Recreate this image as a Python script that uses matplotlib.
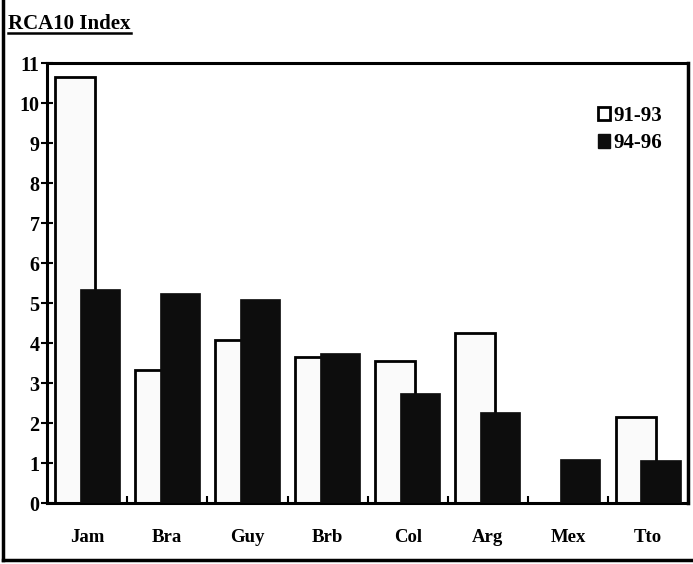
import numpy as np
import matplotlib.pyplot as plt
from matplotlib.lines import Line2D
from matplotlib.patches import Patch

paises = ['Jam', 'Bra', 'Guy', 'Brb', 'Col', 'Arg', 'Mex', 'Tto']
rca_91_93 = [10.65, 3.33, 4.08, 3.65, 3.55, 4.25, 0.0, 2.15]
rca_94_96 = [5.35, 5.25, 5.1, 3.75, 2.75, 2.28, 1.1, 1.08]
yticks = list(range(0, 12))

plt.rcParams['font.family'] = ['Liberation Serif', 'DejaVu Serif']
plt.rcParams['font.weight'] = 'bold'

fig = plt.figure(figsize=(6.93, 5.64), dpi=100)
ax = fig.add_axes([0.068, 0.108, 0.925, 0.78])

x = np.arange(len(paises))
ancho = 0.5
desp = 0.155
ax.bar(x - desp, rca_91_93, ancho, color='#fafafa', edgecolor='black',
       linewidth=2.0, zorder=2)
ax.bar(x + desp, rca_94_96, ancho, color='#0d0d0d', edgecolor='#0d0d0d',
       linewidth=0.5, zorder=3)

ax.set_xlim(-0.5, 7.5)
ax.set_ylim(0, 11)
ax.set_yticks(yticks)
ax.set_xticks(x)
ax.set_xticklabels(paises, fontsize=13.5, fontweight='bold')
ax.set_xticks(x[:-1] + 0.5, minor=True)
ax.tick_params(axis='x', which='major', length=0, pad=19)
ax.tick_params(axis='x', which='minor', direction='in', length=5, width=1.5)
ax.tick_params(axis='y', direction='inout', length=9, width=1.5, labelsize=14.5, pad=1)
for lab in ax.get_yticklabels():
    lab.set_fontweight('bold')

for s in ['left', 'bottom', 'top']:
    ax.spines[s].set_linewidth(2.2)
ax.spines['right'].set_linewidth(2.5)

handles = [Patch(facecolor='white', edgecolor='black', linewidth=2),
           Patch(facecolor='#0d0d0d', edgecolor='#0d0d0d')]
ax.legend(handles, ['91-93', '94-96'], loc='upper left',
          bbox_to_anchor=(0.83, 0.945), frameon=False,
          handlelength=0.6, handleheight=0.6, handletextpad=0.15,
          labelspacing=0.35, prop={'weight': 'bold', 'size': 15})

# titulo subrayado
t = fig.text(0.012, 0.948, 'RCA10 Index', fontsize=15, fontweight='bold',
             ha='left', va='baseline')
fig.canvas.draw()
bb = t.get_window_extent(renderer=fig.canvas.get_renderer())
bb = bb.transformed(fig.transFigure.inverted())
fig.add_artist(Line2D([bb.x0, bb.x1], [0.941, 0.941], color='black',
                      linewidth=1.8, transform=fig.transFigure))

# marco exterior
fig.add_artist(Line2D([0.004, 0.004], [1.0, 0.007], color='black',
                      linewidth=2.5, transform=fig.transFigure))
fig.add_artist(Line2D([0.004, 1.0], [0.007, 0.007], color='black',
                      linewidth=2.5, transform=fig.transFigure))

fig.savefig('out.png', dpi=100)
